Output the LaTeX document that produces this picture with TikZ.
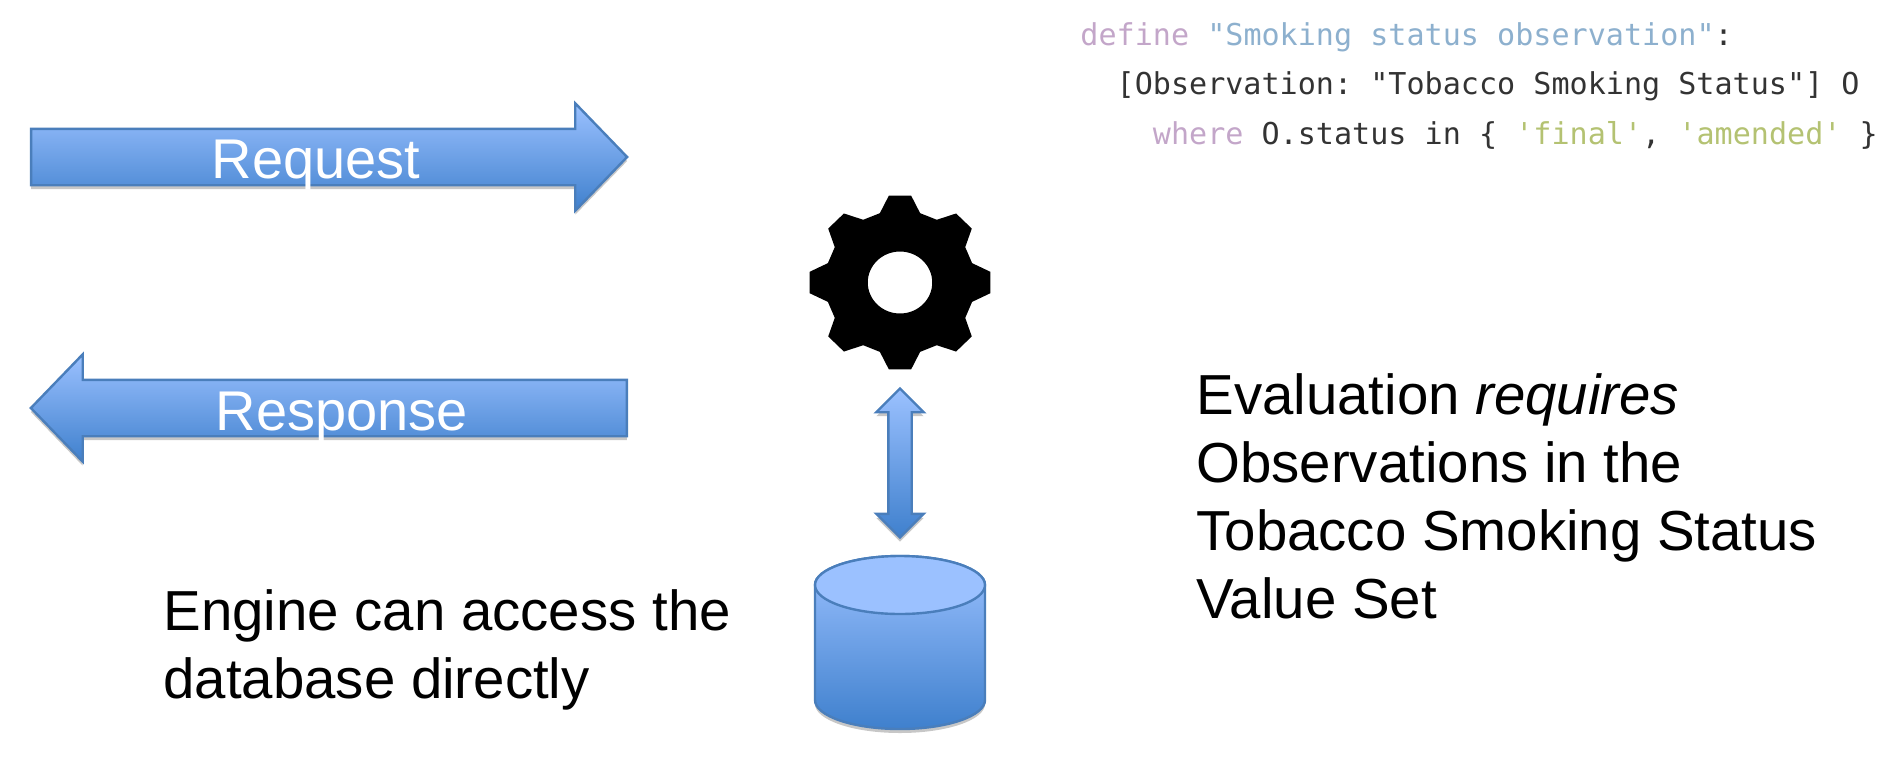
\documentclass[tikz,border=0pt]{standalone}
\usepackage{fontspec}
\setmainfont{Liberation Sans}
\setmonofont{DejaVu Sans Mono}
\usetikzlibrary{positioning,shapes.arrows,shapes.geometric,shadows}
\definecolor{flowtop}{HTML}{9BC1FF}
\definecolor{flowmid}{HTML}{82B0F2}
\definecolor{flowbot}{HTML}{3F80CD}
\definecolor{flowline}{HTML}{4A7EBB}
\definecolor{cqlkey}{HTML}{C3A6C9}
\definecolor{cqlname}{HTML}{8DB0CE}
\definecolor{cqlstr}{HTML}{B4C272}
\definecolor{cqlink}{HTML}{333333}
\tikzset{
  softshadow/.style={drop shadow={shadow xshift=0pt,shadow yshift=-2pt,opacity=.22,fill=black}},
  flowfill/.style={draw=flowline,line width=1.2pt,top color=flowtop,middle color=flowmid,bottom color=flowbot,
                   inner sep=0pt,outer sep=0pt,softshadow},
  flowarrow/.style={flowfill,single arrow,single arrow tip angle=92,single arrow head extend=12.75pt,
                    single arrow head indent=0pt,text height=27pt,text depth=0pt,text width=0pt,
                    minimum height=298pt},
  arrowlabel/.style={text=white,font=\fontsize{28}{34}\selectfont,inner sep=0pt,anchor=base},
  bodytext/.style={font=\fontsize{28.2}{34}\selectfont,inner sep=0pt,anchor=north west,align=left},
}
\begin{document}
\begin{tikzpicture}[x=0.5pt,y=-0.5pt]
\useasboundingbox (0,0) rectangle (1897,757);
% request and response
\node[flowarrow] (request) at (315.5,157) {};
\node[flowarrow,shape border rotate=180] (response) at (342.5,408) {};
\node[arrowlabel] (requestlabel) at (316,178) {Request};
\node[arrowlabel] (responselabel) at (342,430) {Response};
% engine
\coordinate (gear) at (900,282.5);
\fill[black,shift={(gear)},xscale=1.04,even odd rule] (-7:87.6)
  \foreach \a in {0,45,...,315} {
    -- ({\a-7}:87.6) -- ({\a+7}:87.6) -- ({\a+15.6}:72) -- ({\a+29.4}:72)
  } -- cycle (0,0) circle (31);
% link and database
\node[flowfill,double arrow,shape border rotate=90,double arrow tip angle=90,
      double arrow head extend=6pt,double arrow head indent=0pt,text width=10.5pt,
      text height=0pt,text depth=0pt,minimum height=74.5pt] (link) at (900,463) {};
\path[flowfill] (815,585) arc[start angle=180,end angle=0,x radius=42.5pt,y radius=14.5pt]
  -- (985,700) arc[start angle=0,end angle=-180,x radius=42.5pt,y radius=14.5pt] -- cycle;
\node[ellipse,draw=flowline,line width=1.2pt,fill=flowtop,inner sep=0pt,
      minimum width=85pt,minimum height=29pt] (dbtop) at (900,585) {};
% captions
\node[bodytext] (enginenote) at (163,589.5) {Engine can access the\\database directly};
\node[bodytext] (evalnote) at (1196,373) {Evaluation \textit{requires}\\Observations in the\\Tobacco Smoking Status\\Value Set};
\node[font=\ttfamily\fontsize{15.05}{24.75}\selectfont,text=cqlink,inner sep=0pt,anchor=north west,align=left] (cql) at (1080,22)
  {\textcolor{cqlkey}{define} \textcolor{cqlname}{"Smoking status observation"}:\\
   \ \ [Observation: "Tobacco Smoking Status"] O\\
   \ \ \ \ \textcolor{cqlkey}{where} O.status in \{ \textcolor{cqlstr}{'final'}, \textcolor{cqlstr}{'amended'} \}};
\end{tikzpicture}
\end{document}
